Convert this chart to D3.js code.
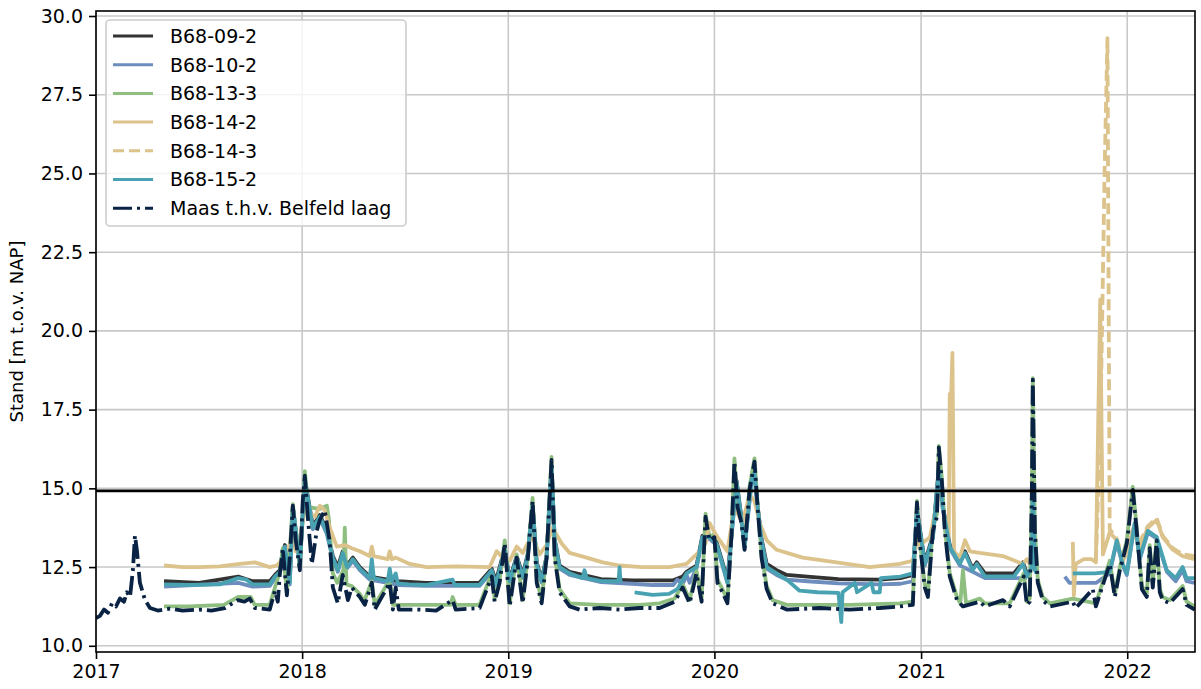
<!DOCTYPE html>
<html><head><meta charset="utf-8">
<script src="https://cdn.jsdelivr.net/npm/d3@7"></script>
<style>body{margin:0;background:#fff} svg{display:block;font-family:"DejaVu Sans",sans-serif}</style>
</head><body><svg id="c" width="1201" height="689"></svg>
<script>
// ---- data (time as decimal year, value in m t.o.v. NAP) ----
const years = [2017, 2018, 2019, 2020, 2021, 2022];
const yTicks = [10, 12.5, 15, 17.5, 20, 22.5, 25, 27.5, 30];
const referenceLevel = 14.92;
const seriesNames = ["B68-09-2","B68-10-2","B68-13-3","B68-14-2","B68-14-3","B68-15-2","Maas t.h.v. Belfeld laag"];

const b68_09_2 = [[2017.330,12.05],[2017.50,12.0],[2017.69,12.2],[2017.76,12.05],[2017.843,12.05],[2017.868,12.25],[2017.892,12.4],[2017.916,13.2],[2017.940,12.1],[2017.955,14.4],[2017.989,12.65],[2018.013,15.3],[2018.052,13.8],[2018.086,14.15],[2018.120,13.65],[2018.149,12.85],[2018.173,12.5],[2018.197,13.0],[2018.217,12.55],[2018.246,12.8],[2018.280,12.5],[2018.328,12.2],[2018.415,12.1],[2018.464,12.05],[2018.60,12.0],[2018.86,12.0],[2018.920,12.45],[2018.940,12.05],[2018.983,13.1],[2019.007,12.1],[2019.041,12.85],[2019.070,12.25],[2019.094,12.9],[2019.118,14.5],[2019.138,12.65],[2019.162,12.1],[2019.186,12.85],[2019.210,15.75],[2019.225,13.4],[2019.249,12.55],[2019.298,12.35],[2019.45,12.12],[2019.60,12.08],[2019.80,12.08],[2019.846,12.2],[2019.865,12.35],[2019.913,12.55],[2019.942,13.5],[2019.976,13.5],[2020.010,13.3],[2020.039,12.65],[2020.063,12.1],[2020.088,13.95],[2020.107,15.25],[2020.131,14.05],[2020.146,13.2],[2020.180,15.3],[2020.194,15.55],[2020.209,14.45],[2020.228,13.4],[2020.253,12.6],[2020.301,12.4],[2020.350,12.25],[2020.45,12.2],[2020.60,12.12],[2020.80,12.1],[2020.90,12.15],[2020.96,12.25],[2020.980,14.35],[2021.018,12.65],[2021.057,13.5],[2021.086,15.65],[2021.105,14.45],[2021.139,13.2],[2021.188,12.65],[2021.213,13.0],[2021.250,12.45],[2021.270,12.65],[2021.310,12.3],[2021.450,12.3],[2021.494,12.65],[2021.513,12.3]];

const b68_10_2 = [[2017.330,11.88],[2017.69,12.0],[2017.76,11.88],[2017.843,11.9],[2017.868,12.15],[2017.892,12.3],[2017.916,13.1],[2017.940,11.95],[2017.955,14.35],[2017.989,12.55],[2018.013,15.2],[2018.052,13.7],[2018.086,14.05],[2018.120,13.55],[2018.149,12.75],[2018.173,12.35],[2018.197,12.9],[2018.217,12.45],[2018.246,12.7],[2018.280,12.4],[2018.328,12.1],[2018.415,12.0],[2018.464,11.93],[2018.60,11.9],[2018.86,11.9],[2018.920,12.35],[2018.940,11.9],[2018.983,13.0],[2019.007,12.0],[2019.041,12.75],[2019.070,12.15],[2019.094,12.8],[2019.118,14.4],[2019.138,12.55],[2019.162,12.0],[2019.186,12.75],[2019.210,15.65],[2019.225,13.3],[2019.249,12.45],[2019.298,12.25],[2019.45,12.02],[2019.60,11.97],[2019.70,11.93],[2019.80,11.93],[2019.82,12.1],[2019.846,11.95],[2019.865,12.25],[2019.88,12.0],[2019.913,12.45],[2019.942,13.4],[2019.976,13.4],[2020.010,13.2],[2020.039,12.55],[2020.063,12.0],[2020.088,13.85],[2020.107,15.15],[2020.131,13.95],[2020.146,13.1],[2020.180,15.2],[2020.194,15.45],[2020.209,14.35],[2020.228,13.3],[2020.253,12.45],[2020.301,12.25],[2020.350,12.1],[2020.45,12.05],[2020.60,11.98],[2020.80,11.95],[2020.90,11.97],[2020.96,12.05],[2020.980,14.25],[2021.018,12.55],[2021.057,13.4],[2021.086,15.55],[2021.105,14.35],[2021.139,13.1],[2021.188,12.55],[2021.250,12.35],[2021.310,12.15],[2021.450,12.15],[2021.513,12.15],[2021.60,null],[2021.697,12.2],[2021.72,12.0],[2021.85,12.0],[2021.915,12.3],[2021.949,13.3],[2021.978,12.55],[2021.998,12.25],[2022.036,13.85],[2022.061,12.75],[2022.100,13.6],[2022.143,13.4],[2022.192,12.35],[2022.235,12.05],[2022.269,12.4],[2022.288,12.05],[2022.327,12.0]];

const b68_13_3 = [[2017.330,11.25],[2017.45,11.25],[2017.62,11.3],[2017.69,11.55],[2017.75,11.55],[2017.77,11.3],[2017.843,11.3],[2017.868,11.85],[2017.892,12.35],[2017.906,13.1],[2017.926,11.7],[2017.955,14.5],[2017.989,12.5],[2018.013,15.55],[2018.03,14.4],[2018.086,14.35],[2018.12,14.45],[2018.13,14.0],[2018.149,12.3],[2018.17,12.0],[2018.20,12.4],[2018.207,13.75],[2018.215,11.95],[2018.24,11.9],[2018.28,11.65],[2018.30,11.4],[2018.338,12.05],[2018.352,11.3],[2018.425,12.1],[2018.44,11.3],[2018.469,11.3],[2018.72,11.3],[2018.73,11.55],[2018.745,11.3],[2018.86,11.3],[2018.92,12.3],[2018.934,11.5],[2018.958,12.1],[2018.983,13.35],[2019.007,11.35],[2019.041,12.9],[2019.070,11.45],[2019.094,12.8],[2019.118,14.7],[2019.138,12.1],[2019.162,11.45],[2019.186,12.9],[2019.210,16.0],[2019.225,12.9],[2019.249,11.8],[2019.298,11.35],[2019.443,11.3],[2019.637,11.3],[2019.734,11.35],[2019.807,11.5],[2019.846,11.95],[2019.880,11.45],[2019.913,12.4],[2019.938,11.5],[2019.957,14.2],[2019.976,13.45],[2020.000,13.55],[2020.015,12.1],[2020.039,11.8],[2020.063,11.45],[2020.083,13.65],[2020.097,15.95],[2020.112,14.5],[2020.131,14.0],[2020.146,13.15],[2020.170,15.05],[2020.194,15.95],[2020.209,14.5],[2020.228,12.9],[2020.253,11.9],[2020.282,11.45],[2020.350,11.3],[2020.655,11.3],[2020.897,11.35],[2020.960,11.4],[2020.980,14.6],[2020.994,13.3],[2021.018,11.95],[2021.033,11.65],[2021.057,13.75],[2021.077,14.2],[2021.086,16.35],[2021.101,15.3],[2021.115,13.75],[2021.139,12.3],[2021.174,11.55],[2021.19,11.35],[2021.203,12.4],[2021.218,11.35],[2021.285,11.5],[2021.309,11.35],[2021.43,11.35],[2021.498,12.3],[2021.513,11.4],[2021.527,11.5],[2021.537,14.8],[2021.542,18.5],[2021.552,13.7],[2021.566,12.1],[2021.590,11.55],[2021.624,11.35],[2021.736,11.5],[2021.848,11.35],[2021.915,12.7],[2021.940,11.65],[2021.964,12.5],[2021.998,13.35],[2022.027,15.05],[2022.046,13.75],[2022.071,11.9],[2022.095,11.65],[2022.109,13.2],[2022.124,11.95],[2022.143,13.45],[2022.158,11.8],[2022.172,11.55],[2022.206,11.45],[2022.269,11.9],[2022.288,11.4],[2022.327,11.25]];

const b68_14_2 = [[2017.330,12.55],[2017.42,12.5],[2017.504,12.5],[2017.60,12.52],[2017.698,12.6],[2017.771,12.65],[2017.843,12.5],[2017.877,12.55],[2017.906,12.75],[2017.931,13.1],[2017.955,13.4],[2017.969,13.0],[2017.989,13.4],[2018.013,14.35],[2018.037,14.2],[2018.062,14.1],[2018.086,14.45],[2018.110,14.3],[2018.134,13.75],[2018.168,13.15],[2018.207,13.2],[2018.241,13.1],[2018.280,13.0],[2018.328,12.85],[2018.338,13.15],[2018.348,12.85],[2018.415,12.75],[2018.425,13.0],[2018.435,12.75],[2018.454,12.8],[2018.522,12.6],[2018.604,12.5],[2018.75,12.52],[2018.910,12.5],[2018.944,13.0],[2018.973,12.8],[2019.007,12.7],[2019.041,13.15],[2019.070,12.95],[2019.094,13.25],[2019.118,13.45],[2019.152,12.9],[2019.186,13.2],[2019.215,13.75],[2019.259,13.25],[2019.298,12.95],[2019.380,12.8],[2019.458,12.65],[2019.540,12.55],[2019.65,12.5],[2019.782,12.5],[2019.865,12.6],[2019.928,13.0],[2019.957,13.25],[2019.976,13.9],[2020.010,13.5],[2020.063,13.0],[2020.097,14.4],[2020.136,13.9],[2020.170,14.8],[2020.194,14.6],[2020.219,13.9],[2020.253,13.35],[2020.301,13.05],[2020.427,12.8],[2020.592,12.65],[2020.752,12.5],[2020.897,12.6],[2020.960,12.7],[2020.980,13.3],[2020.994,13.2],[2021.043,13.45],[2021.091,15.0],[2021.125,13.6],[2021.134,13.4],[2021.139,18.0],[2021.144,17.6],[2021.152,19.3],[2021.160,13.0],[2021.188,12.8],[2021.213,13.35],[2021.237,13.0],[2021.285,12.95],[2021.397,12.85],[2021.494,12.6],[2021.513,12.75],[2021.527,12.6],[2021.60,null],[2021.736,13.3],[2021.741,11.6],[2021.750,12.6],[2021.790,12.75],[2021.828,12.75],[2021.848,12.65],[2021.869,21.0],[2021.882,12.9],[2021.915,13.6],[2021.949,13.35],[2021.978,12.65],[2022.027,13.65],[2022.061,13.15],[2022.100,13.75],[2022.143,14.0],[2022.172,13.45],[2022.221,13.05],[2022.269,12.85],[2022.327,12.75]];

const b68_14_3 = [[2021.848,12.7],[2021.870,17.0],[2021.890,25.0],[2021.904,29.3],[2021.915,13.7],[2021.949,13.4],[2021.978,12.8],[2022.027,13.7],[2022.061,13.3],[2022.100,13.8],[2022.143,14.05],[2022.172,13.5],[2022.221,13.1],[2022.269,12.9],[2022.327,12.85]];

const b68_15_2 = [[2017.330,11.95],[2017.45,11.93],[2017.60,11.95],[2017.690,12.15],[2017.730,12.1],[2017.760,11.95],[2017.843,11.95],[2017.868,12.2],[2017.892,12.35],[2017.916,13.15],[2017.940,12.0],[2017.955,14.4],[2017.989,12.6],[2018.013,15.25],[2018.052,13.75],[2018.086,14.1],[2018.120,13.6],[2018.149,12.8],[2018.173,12.4],[2018.197,12.95],[2018.217,12.5],[2018.246,12.75],[2018.280,12.45],[2018.328,12.15],[2018.338,12.75],[2018.348,12.15],[2018.415,12.05],[2018.425,12.45],[2018.435,12.05],[2018.454,12.3],[2018.464,11.98],[2018.520,11.95],[2018.600,11.93],[2018.730,12.1],[2018.740,11.93],[2018.860,11.93],[2018.920,12.4],[2018.940,11.95],[2018.983,13.05],[2019.007,12.05],[2019.041,12.8],[2019.070,12.2],[2019.094,12.85],[2019.118,14.45],[2019.138,12.6],[2019.162,12.05],[2019.186,12.8],[2019.210,15.7],[2019.225,13.35],[2019.249,12.5],[2019.298,12.3],[2019.360,12.15],[2019.370,12.4],[2019.380,12.15],[2019.458,12.05],[2019.535,12.05],[2019.540,12.5],[2019.545,12.0],[2019.58,null],
 [2019.613,11.7],[2019.70,11.62],[2019.78,11.65],[2019.82,11.8],[2019.865,12.3],[2019.913,12.5],[2019.942,13.45],[2019.976,13.45],[2020.010,13.25],[2020.039,12.6],[2020.063,12.0],[2020.088,13.9],[2020.107,15.2],[2020.131,14.0],[2020.146,13.15],[2020.180,15.25],[2020.194,15.5],[2020.209,14.4],[2020.228,13.35],[2020.253,12.5],[2020.301,12.3],[2020.350,12.1],[2020.412,11.75],[2020.50,11.7],[2020.60,11.68],[2020.614,10.75],[2020.62,11.7],[2020.68,12.0],[2020.69,11.7],[2020.76,12.0],[2020.77,11.7],[2020.80,11.7],[2020.805,12.15],[2020.90,12.2],[2020.960,12.3],[2020.980,14.3],[2021.018,12.6],[2021.057,13.45],[2021.086,15.6],[2021.105,14.4],[2021.139,13.15],[2021.188,12.6],[2021.213,12.95],[2021.250,12.4],[2021.270,12.6],[2021.310,12.2],[2021.450,12.2],[2021.494,12.6],[2021.513,12.2],[2021.537,12.5],[2021.542,15.0],[2021.552,12.4],[2021.560,12.3],[2021.60,null],
 [2021.736,12.3],[2021.843,12.3],[2021.915,12.35],[2021.949,13.35],[2021.978,12.6],[2021.998,12.3],[2022.036,13.9],[2022.061,12.8],[2022.100,13.65],[2022.143,13.45],[2022.192,12.4],[2022.235,12.15],[2022.269,12.5],[2022.288,12.15],[2022.327,12.15]];

const maas = [[2017.000,10.88],[2017.019,10.95],[2017.039,11.15],[2017.058,11.05],[2017.078,11.35],[2017.097,11.25],[2017.116,11.5],[2017.136,11.4],[2017.150,11.7],[2017.165,11.55],[2017.179,12.4],[2017.189,13.5],[2017.199,13.0],[2017.213,12.0],[2017.238,11.45],[2017.262,11.2],[2017.300,11.12],[2017.359,11.18],[2017.420,11.12],[2017.504,11.15],[2017.560,11.12],[2017.625,11.2],[2017.688,11.45],[2017.720,11.4],[2017.746,11.5],[2017.771,11.2],[2017.843,11.15],[2017.868,11.75],[2017.882,11.4],[2017.892,12.3],[2017.906,13.1],[2017.926,11.6],[2017.940,12.8],[2017.955,14.45],[2017.969,13.35],[2017.989,12.4],[2018.003,14.6],[2018.013,15.4],[2018.028,14.05],[2018.047,12.6],[2018.071,13.65],[2018.086,14.0],[2018.110,14.3],[2018.134,13.3],[2018.149,11.85],[2018.173,11.35],[2018.197,12.25],[2018.222,11.45],[2018.241,11.85],[2018.280,11.55],[2018.304,11.3],[2018.338,12.0],[2018.352,11.15],[2018.425,12.0],[2018.440,11.15],[2018.454,11.85],[2018.469,11.15],[2018.571,11.15],[2018.650,11.12],[2018.730,11.45],[2018.745,11.15],[2018.861,11.2],[2018.920,12.2],[2018.934,11.4],[2018.958,12.0],[2018.983,13.25],[2019.007,11.25],[2019.041,12.8],[2019.070,11.35],[2019.094,12.7],[2019.118,14.6],[2019.138,12.0],[2019.162,11.35],[2019.186,12.8],[2019.210,15.9],[2019.225,12.8],[2019.249,11.7],[2019.298,11.25],[2019.346,11.15],[2019.443,11.2],[2019.540,11.15],[2019.637,11.2],[2019.734,11.2],[2019.807,11.4],[2019.846,11.85],[2019.880,11.35],[2019.913,12.3],[2019.938,11.4],[2019.957,14.1],[2019.976,13.35],[2020.000,13.45],[2020.015,12.0],[2020.039,11.7],[2020.063,11.35],[2020.083,13.55],[2020.097,15.85],[2020.112,14.4],[2020.131,13.9],[2020.146,13.05],[2020.170,14.95],[2020.194,15.85],[2020.209,14.4],[2020.228,12.8],[2020.253,11.8],[2020.282,11.35],[2020.350,11.15],[2020.509,11.2],[2020.655,11.15],[2020.800,11.2],[2020.897,11.25],[2020.960,11.3],[2020.980,14.55],[2020.994,13.25],[2021.018,11.85],[2021.033,11.55],[2021.057,13.65],[2021.077,14.1],[2021.086,16.3],[2021.101,15.2],[2021.115,13.65],[2021.139,12.2],[2021.174,11.45],[2021.203,11.25],[2021.285,11.4],[2021.309,11.25],[2021.397,11.45],[2021.430,11.25],[2021.498,12.2],[2021.513,11.3],[2021.527,11.4],[2021.537,14.7],[2021.542,18.45],[2021.552,13.65],[2021.566,12.0],[2021.590,11.45],[2021.624,11.25],[2021.736,11.4],[2021.750,11.2],[2021.833,11.8],[2021.848,11.25],[2021.915,12.6],[2021.940,11.55],[2021.964,12.4],[2021.998,13.25],[2022.027,14.95],[2022.046,13.65],[2022.071,11.8],[2022.095,11.55],[2022.109,13.1],[2022.124,11.85],[2022.143,13.35],[2022.158,11.7],[2022.172,11.45],[2022.206,11.35],[2022.269,11.8],[2022.288,11.3],[2022.327,11.15]];

// ---- drawing ----
const toDate = t => { const yr = Math.floor(t); const s = Date.UTC(yr,0,1), e = Date.UTC(yr+1,0,1); return new Date(s + (t-yr)*(e-s)); };
const W = 1201, H = 689, L = 96, R = 1195, T = 11, B = 652;
const x = d3.scaleUtc().domain([new Date(Date.UTC(2017,0,1)), new Date(Date.UTC(2022,4,1))]).range([L, R]);
const y = d3.scaleLinear().domain([9.803, 30.159]).range([B, T]);
const svg = d3.select("#c");
svg.append("rect").attr("width", W).attr("height", H).attr("fill", "#fff");
svg.append("defs").append("clipPath").attr("id","clip").append("rect").attr("x",L).attr("y",T).attr("width",R-L).attr("height",B-T);

const yearDates = years.map(yr => new Date(Date.UTC(yr,0,1)));
// grid
const grid = svg.append("g");
grid.selectAll(".gx").data(yearDates).join("line").attr("x1",d=>x(d)).attr("x2",d=>x(d)).attr("y1",T).attr("y2",B).attr("stroke","#c8c8c8").attr("stroke-width",1.6);
grid.selectAll(".gy").data(yTicks).join("line").attr("x1",L).attr("x2",R).attr("y1",d=>y(d)).attr("y2",d=>y(d)).attr("stroke","#c8c8c8").attr("stroke-width",1.6);

const series = [
  {name: seriesNames[0], data: b68_09_2, color: "#333333", dash: null},
  {name: seriesNames[1], data: b68_10_2, color: "#6d8dbf", dash: null},
  {name: seriesNames[2], data: b68_13_3, color: "#8fbf80", dash: null},
  {name: seriesNames[3], data: b68_14_2, color: "#dcc28b", dash: null},
  {name: seriesNames[4], data: b68_14_3, color: "#dcc28b", dash: "11,5"},
  {name: seriesNames[5], data: b68_15_2, color: "#48a2b2", dash: null},
  {name: seriesNames[6], data: maas, color: "#0a2344", dash: "19,5,3,5"}
];
const line = d3.line().defined(d => d[1] != null).x(d => x(toDate(d[0]))).y(d => y(d[1]));
const lines = svg.append("g").attr("clip-path","url(#clip)");
series.forEach(s => {
  lines.append("path").attr("d", line(s.data)).attr("fill","none").attr("stroke", s.color)
    .attr("stroke-width", 3.8).attr("stroke-linejoin","round")
    .attr("stroke-dasharray", s.dash);
});
// reference line
lines.append("line").attr("x1",L).attr("x2",R).attr("y1",y(referenceLevel)).attr("y2",y(referenceLevel)).attr("stroke","#000").attr("stroke-width",2.6);

// frame
svg.append("rect").attr("x",L).attr("y",T).attr("width",R-L).attr("height",B-T).attr("fill","none").attr("stroke","#000").attr("stroke-width",1.6);

// axes
const yAxis = svg.append("g").attr("transform",`translate(${L},0)`)
  .call(d3.axisLeft(y).tickValues(yTicks).tickFormat(d3.format(".1f")).tickSize(7).tickPadding(6));
const xAxis = svg.append("g").attr("transform",`translate(0,${B})`)
  .call(d3.axisBottom(x).tickValues(yearDates).tickFormat(d3.utcFormat("%Y")).tickSize(7).tickPadding(6));
[yAxis, xAxis].forEach(a => {
  a.select(".domain").remove();
  a.selectAll(".tick line").attr("stroke","#000").attr("stroke-width",1.6);
  a.selectAll(".tick text").attr("fill","#000").style("font-size","19px").style("font-family","DejaVu Sans");
});
svg.append("text").attr("transform",`translate(23,${(T+B)/2}) rotate(-90)`).attr("text-anchor","middle")
  .style("font-size","18px").style("font-family","DejaVu Sans").text("Stand [m t.o.v. NAP]");

// legend
const lg = svg.append("g");
lg.append("rect").attr("x",106).attr("y",20).attr("width",300).attr("height",206).attr("rx",4)
  .attr("fill","#fff").attr("fill-opacity",0.8).attr("stroke","#cccccc").attr("stroke-width",1.6);
series.forEach((s,i) => {
  const cy = 36 + i*28.7;
  lg.append("line").attr("x1",113).attr("x2",153).attr("y1",cy).attr("y2",cy).attr("stroke",s.color).attr("stroke-width",3)
    .attr("stroke-dasharray", s.dash);
  lg.append("text").attr("x",170).attr("y",cy).attr("dy","0.36em").style("font-size","19px").style("font-family","DejaVu Sans").attr("fill","#000").text(s.name);
});
</script></body></html>
